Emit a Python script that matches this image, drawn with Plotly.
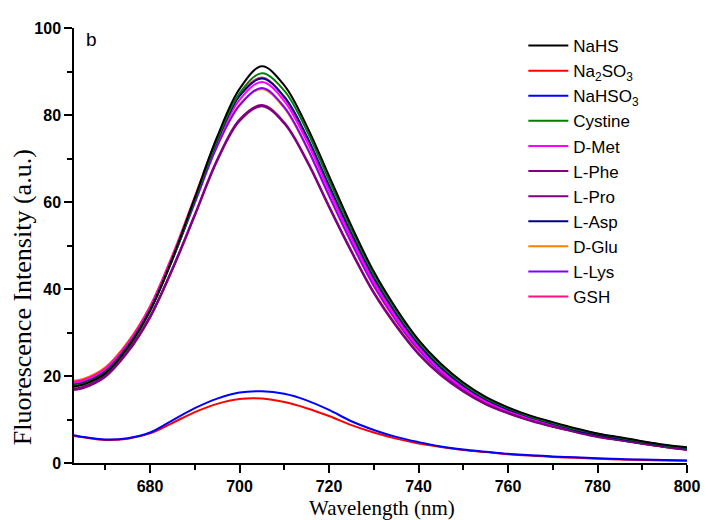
import plotly.graph_objects as go

wavelength = [663, 665, 670, 675, 680, 685, 690, 695, 700, 705, 710, 715, 720, 725, 730,
              735, 740, 745, 750, 755, 760, 765, 770, 775, 780, 785, 790, 795, 800]

nahs    = [17.6, 18.0, 20.6, 26.5, 35.0, 47.0, 61.0, 75.0, 86.0, 91.2, 86.8, 77.5, 66.0, 54.5, 44.0,
           35.5, 28.3, 22.8, 18.5, 15.2, 12.8, 10.9, 9.4, 8.0, 6.8, 5.9, 5.0, 4.2, 3.6]
na2so3  = [6.2, 5.9, 5.3, 5.6, 6.8, 9.2, 11.7, 13.6, 14.7, 14.8, 14.0, 12.6, 10.8, 8.7, 7.0,
           5.6, 4.5, 3.7, 3.0, 2.5, 2.0, 1.7, 1.4, 1.2, 1.0, 0.8, 0.7, 0.6, 0.5]
nahso3  = [6.4, 6.0, 5.4, 5.7, 7.0, 9.8, 12.6, 14.8, 16.2, 16.5, 15.9, 14.4, 12.2, 9.6, 7.6,
           6.0, 4.8, 3.8, 3.1, 2.6, 2.1, 1.8, 1.5, 1.3, 1.1, 0.9, 0.8, 0.7, 0.6]
cystine = [17.8, 18.2, 20.8, 26.6, 35.0, 46.8, 60.5, 74.3, 85.0, 89.6, 85.6, 76.5, 65.0, 53.7, 43.4,
           35.0, 27.9, 22.4, 18.2, 14.9, 12.6, 10.7, 9.2, 7.8, 6.7, 5.8, 4.9, 4.1, 3.5]
dmet    = [18.3, 18.7, 21.4, 27.2, 35.6, 47.3, 60.6, 73.8, 83.5, 87.6, 83.2, 74.0, 62.6, 51.6, 41.5,
           33.3, 26.5, 21.2, 17.2, 14.1, 11.9, 10.1, 8.6, 7.3, 6.2, 5.4, 4.5, 3.8, 3.1]
lphe    = [16.8, 17.2, 19.8, 25.4, 33.4, 44.4, 56.8, 69.4, 78.6, 82.0, 78.0, 69.4, 58.8, 48.5, 39.0,
           31.4, 25.0, 20.1, 16.4, 13.5, 11.4, 9.7, 8.3, 7.1, 6.0, 5.2, 4.4, 3.7, 3.0]
lpro    = [17.1, 17.5, 20.1, 25.8, 33.8, 44.8, 57.2, 69.8, 79.0, 82.3, 78.3, 69.7, 59.1, 48.8, 39.3,
           31.7, 25.2, 20.3, 16.6, 13.6, 11.5, 9.8, 8.4, 7.2, 6.1, 5.3, 4.5, 3.7, 3.1]
lasp    = [18.0, 18.4, 21.0, 26.8, 35.2, 46.8, 60.4, 74.0, 84.4, 88.4, 84.2, 75.2, 63.8, 52.8, 42.6,
           34.3, 27.3, 21.9, 17.8, 14.6, 12.3, 10.5, 9.0, 7.6, 6.5, 5.6, 4.8, 4.0, 3.4]
dglu    = [18.9, 19.3, 22.0, 27.8, 36.0, 47.4, 60.4, 73.2, 82.4, 86.0, 81.6, 72.5, 61.3, 50.5, 40.6,
           32.6, 25.9, 20.7, 16.8, 13.8, 11.7, 9.9, 8.5, 7.2, 6.1, 5.3, 4.5, 3.7, 3.1]
llys    = [18.3, 18.7, 21.4, 27.1, 35.3, 46.8, 59.8, 72.8, 82.2, 86.2, 81.8, 72.7, 61.5, 50.7, 40.8,
           32.8, 26.1, 20.9, 17.0, 14.0, 11.8, 10.0, 8.6, 7.3, 6.2, 5.3, 4.5, 3.8, 3.1]
gsh     = [18.7, 19.1, 21.8, 27.6, 36.0, 47.8, 61.2, 74.6, 84.5, 88.6, 84.0, 74.8, 63.3, 52.2, 42.0,
           33.7, 26.8, 21.4, 17.4, 14.2, 12.0, 10.2, 8.7, 7.4, 6.3, 5.4, 4.6, 3.8, 3.1]

series_names = ["NaHS", "Na<sub>2</sub>SO<sub>3</sub>", "NaHSO<sub>3</sub>", "Cystine", "D-Met",
                "L-Phe", "L-Pro", "L-Asp", "D-Glu", "L-Lys", "GSH"]
series_values = [nahs, na2so3, nahso3, cystine, dmet, lphe, lpro, lasp, dglu, llys, gsh]
series_colors = ["#000000", "#FF0000", "#0000FF", "#008000", "#FF00FF", "#800080", "#800080",
                 "#000080", "#FF8000", "#8000FF", "#FF1080"]

x_ticks = [680, 700, 720, 740, 760, 780, 800]
y_ticks = [0, 20, 40, 60, 80, 100]

fig = go.Figure()
draw_order = [8, 9, 10, 4, 5, 6, 7, 3, 0, 1, 2]
for i in draw_order:
    fig.add_trace(go.Scatter(
        x=wavelength, y=series_values[i], name=series_names[i], mode="lines",
        line=dict(color=series_colors[i], width=2, shape="spline", smoothing=1.0),
        legendrank=i + 1,
    ))

axis_common = dict(
    ticks="outside", ticklen=8, tickwidth=1.5, tickcolor="black",
    showline=True, linecolor="black", linewidth=1.5, showgrid=False, zeroline=False,
    tickfont=dict(family="Liberation Sans, Arial", size=16, color="black", weight="bold"),
    minor=dict(dtick=10, tick0=0, ticks="outside", ticklen=5, tickwidth=1.5, tickcolor="black"),
)

fig.update_layout(
    width=704, height=512,
    margin=dict(l=66, r=17, t=14, b=57),
    plot_bgcolor="white", paper_bgcolor="white",
    showlegend=True,
    legend=dict(x=0.733, y=1.0, xanchor="left", yanchor="top",
                font=dict(family="Liberation Sans, Arial", size=17, color="black"),
                bgcolor="rgba(0,0,0,0)", tracegroupgap=0, itemwidth=40),
    xaxis=dict(range=[663, 800], tickvals=x_ticks, **axis_common),
    yaxis=dict(range=[0, 100], tickvals=y_ticks, **axis_common),
    annotations=[
        dict(text="Wavelength (nm)", xref="paper", yref="paper", x=0.502, y=-0.104,
             xanchor="center", yanchor="middle", showarrow=False,
             font=dict(family="Liberation Serif, Times New Roman", size=21, color="black")),
        dict(text="Fluorescence Intensity (a.u.)", xref="paper", yref="paper", x=-0.084, y=0.38,
             xanchor="center", yanchor="middle", textangle=-90, showarrow=False,
             font=dict(family="Liberation Serif, Times New Roman", size=26, color="black")),
        dict(text="b", xref="paper", yref="paper", x=0.0285, y=0.974,
             xanchor="center", yanchor="middle", showarrow=False,
             font=dict(family="Liberation Sans, Arial", size=19, color="black")),
    ],
)

fig.write_html("out.html")
